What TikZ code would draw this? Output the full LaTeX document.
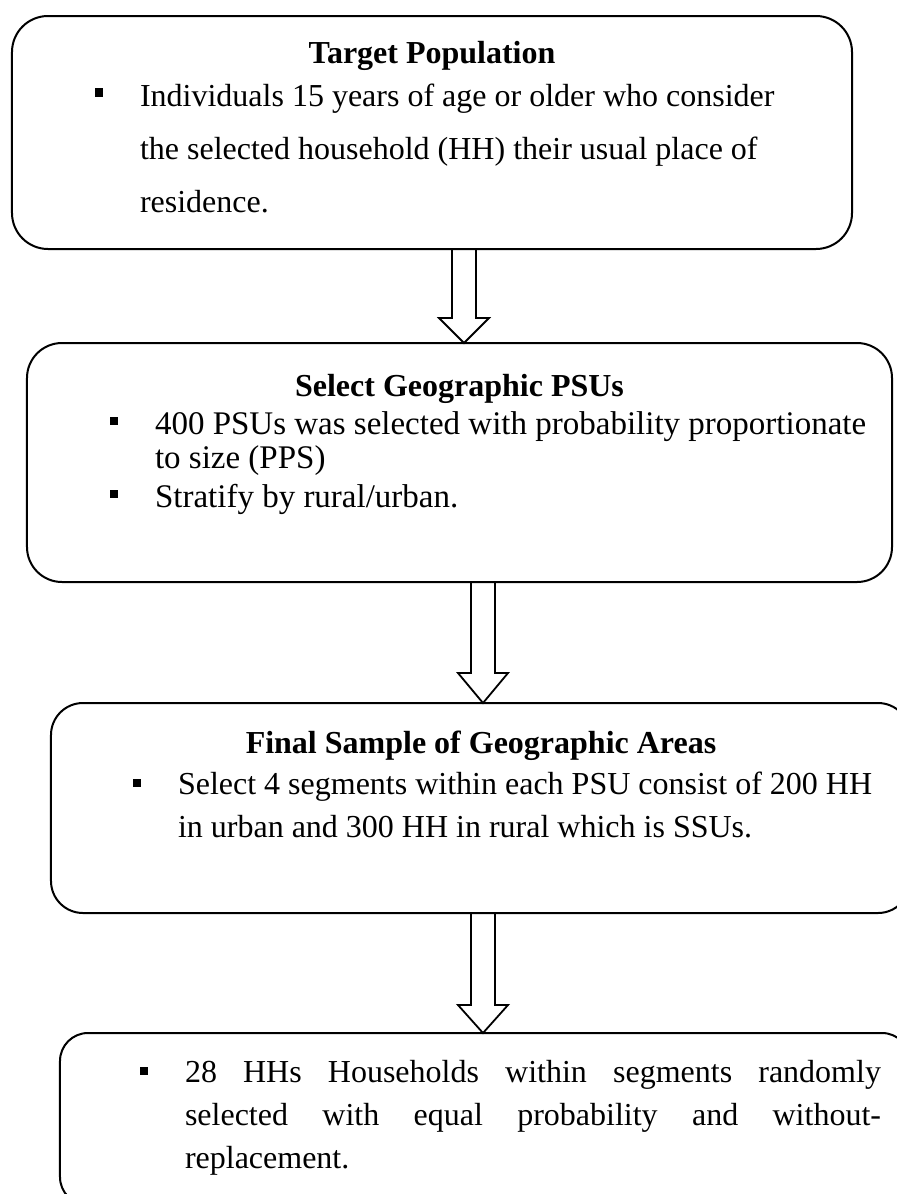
\documentclass[tikz,border=0pt]{standalone}
\usepackage{fontspec}
\setmainfont{Liberation Serif}
\usetikzlibrary{calc}
\tikzset{
  flowbox/.style={draw=black, line width=2bp, rectangle, inner sep=0pt, outer sep=0pt},
  txt/.style={anchor=base west, inner sep=0pt, outer sep=0pt, font=\fontsize{32bp}{38bp}\selectfont},
  txtb/.style={txt, font=\fontsize{33bp}{38bp}\selectfont},
  ttl/.style={anchor=base, inner sep=0pt, outer sep=0pt, font=\fontsize{32bp}{38bp}\selectfont\bfseries},
  bul/.style={fill=black, draw=none, rectangle, minimum size=8.5bp, inner sep=0pt},
  blockarrow/.style={draw=black, line width=1.8bp, line join=miter}
}
\newcommand\mkblockarrow[4]{% from node, to node, x-coordinate name, head length
  \draw[blockarrow] ($(#1.south -| #3)+(-12,0)$) -- ($(#2.north -| #3)+(-12,-#4)$) -- ++(-13,0)
    -- (#2.north -| #3) -- ++(25,-#4) -- ++(-13,0) -- ($(#1.south -| #3)+(12,0)$) -- cycle;}
\begin{document}
\begin{tikzpicture}[x=1bp,y=-1bp]
\useasboundingbox (0,0) rectangle (897,1194);
\clip (0,0) rectangle (897,1194);
% boxes
\node[flowbox, rounded corners=36bp, minimum width=840bp, minimum height=233bp] (b1) at (432,132.5) {};
\node[flowbox, rounded corners=35bp, minimum width=865bp, minimum height=239bp] (b2) at (459.5,462.5) {};
\node[flowbox, rounded corners=32bp, minimum width=859bp, minimum height=210bp] (b3) at (480.5,808) {};
\node[flowbox, rounded corners=28bp, minimum width=850bp, minimum height=172bp] (b4) at (485,1119) {};
% arrow axes
\coordinate (ax1) at (464,0);
\coordinate (ax2) at (483,0);
\coordinate (ax3) at (483,0);
\mkblockarrow{b1}{b2}{ax1}{25}
\mkblockarrow{b2}{b3}{ax2}{30}
\mkblockarrow{b3}{b4}{ax3}{28}
% box 1 text
\node[ttl] (t1) at (432,63) {Target Population};
\node[bul] (u1) at (99,92.5) {};
\node[txt] (l1a) at (140,106) {Individuals 15 years of age or older who consider};
\node[txt] (l1b) at (140,159) {the selected household (HH) their usual place of};
\node[txt] (l1c) at (140,212) {residence.};
% box 2 text
\node[ttl] (t2) at (459.5,396) {Select Geographic PSUs};
\node[bul] (u2a) at (114,421) {};
\node[txtb] (l2a) at (155,434) {400 PSUs was selected with probability proportionate};
\node[txtb] (l2b) at (155,468) {to size (PPS)};
\node[bul] (u2b) at (114,494) {};
\node[txtb] (l2c) at (155,507) {Stratify by rural/urban.};
% box 3 text
\node[ttl] (t3) at (481,753) {Final Sample of Geographic Areas};
\node[bul] (u3) at (137,783) {};
\node[txt] (l3a) at (178,794) {Select 4 segments within each PSU consist of 200 HH};
\node[txt] (l3b) at (178,837) {in urban and 300 HH in rural which is SSUs.};
% box 4 text
\node[bul] (u4) at (144,1071) {};
\node[txt] (l4a) at (185,1082) {\makebox[696bp][s]{28 HHs Households within segments randomly}};
\node[txt] (l4b) at (185,1125) {\makebox[696bp][s]{selected with equal probability and without-}};
\node[txt] (l4c) at (185,1168) {replacement.};
\end{tikzpicture}
\end{document}
